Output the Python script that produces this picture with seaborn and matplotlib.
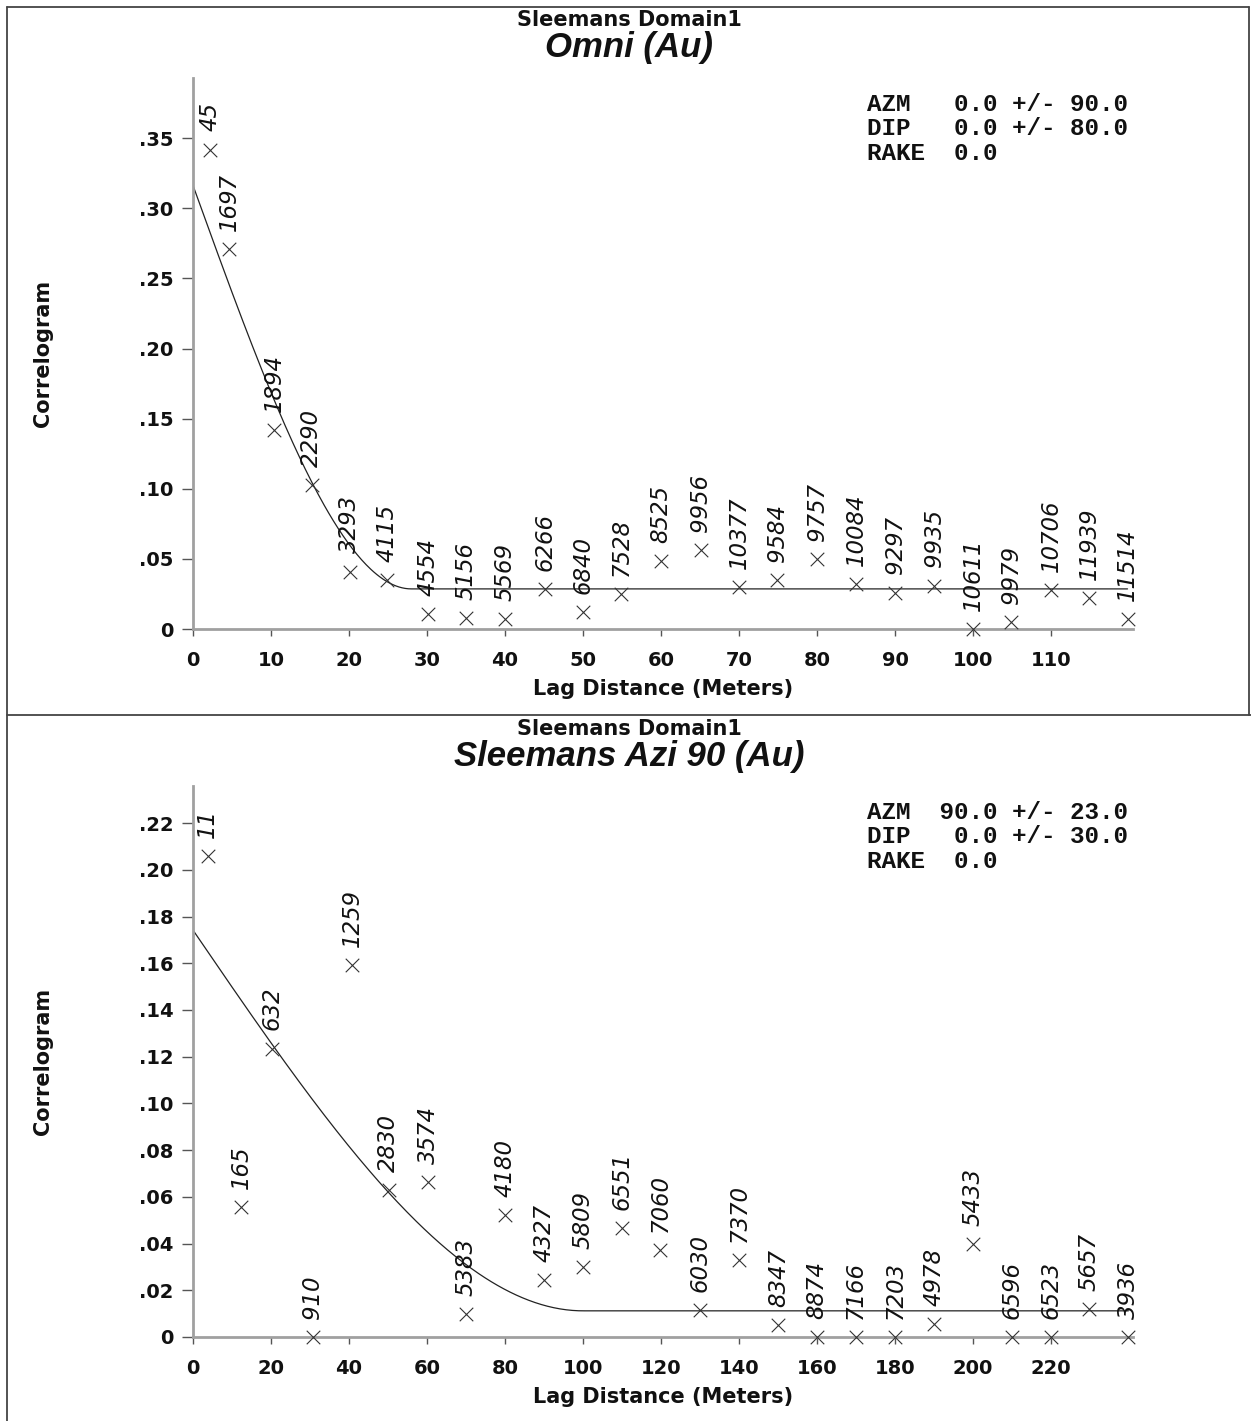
import numpy as np
import pandas as pd
import matplotlib
matplotlib.use("Agg")
import matplotlib.pyplot as plt
from matplotlib.lines import Line2D
from matplotlib.ticker import FuncFormatter, MultipleLocator
import seaborn as sns

# ---- Omni direction: experimental correlogram ----
omni_lag = [2.2, 4.6, 10.4, 15.2, 20.1, 24.9, 30.1, 35.0, 40.0, 45.1, 50.0, 54.9, 60.0,
            65.1, 70.0, 74.9, 80.0, 85.0, 90.0, 95.0, 100.0, 104.9, 110.0, 114.9, 119.8]
omni_corr = [0.342, 0.271, 0.142, 0.103, 0.041, 0.035, 0.011, 0.008, 0.007, 0.0285, 0.012,
             0.025, 0.0487, 0.056, 0.030, 0.035, 0.050, 0.032, 0.026, 0.031, 0.0, 0.005,
             0.028, 0.022, 0.007]
omni_pairs = [45, 1697, 1894, 2290, 3293, 4115, 4554, 5156, 5569, 6266, 6840, 7528, 8525,
              9956, 10377, 9584, 9757, 10084, 9297, 9935, 10611, 9979, 10706, 11939, 11514]

# ---- Azimuth 90 direction: experimental correlogram ----
azi_lag = [3.75, 12.3, 20.2, 30.7, 40.8, 50.2, 60.3, 70.1, 80.0, 89.9, 100.0, 110.1, 119.8,
           130.0, 140.0, 150.1, 160.0, 169.9, 180.0, 190.0, 200.0, 210.0, 220.0, 229.8, 239.8]
azi_corr = [0.206, 0.0556, 0.1235, 0.0, 0.1594, 0.063, 0.0662, 0.0098, 0.0521, 0.0243, 0.030,
            0.0467, 0.0371, 0.0114, 0.0331, 0.005, 0.0, 0.0, 0.0, 0.0057, 0.0397, 0.0, 0.0,
            0.0121, 0.0]
azi_pairs = [11, 165, 632, 910, 1259, 2830, 3574, 5383, 4180, 4327, 5809, 6551, 7060, 6030,
             7370, 8347, 8874, 7166, 7203, 4978, 5433, 6596, 6523, 5657, 3936]

# Fitted spherical models: (floor, structure contribution, range)
omni_model = (0.0286, 0.2878, 28.0)
azi_model = (0.0112, 0.1630, 100.0)

omni_info = "AZM   0.0 +/- 90.0\nDIP   0.0 +/- 80.0\nRAKE  0.0"
azi_info = "AZM  90.0 +/- 23.0\nDIP   0.0 +/- 30.0\nRAKE  0.0"


def spherical_correlogram(h, floor, c, a):
    r = np.clip(h / a, 0, 1)
    return floor + c * (1 - 1.5 * r + 0.5 * r ** 3)


sns.set_style("white")
plt.rcParams["font.family"] = ["DejaVu Sans"]

W, H = 1251, 1421
fig = plt.figure(figsize=(W / 100, H / 100), dpi=100)
fig.patch.set_facecolor("white")

AX_L, AX_W, AX_H = 193 / W, 940 / W, 551 / H
ax_top = fig.add_axes([AX_L, 1 - 629 / H, AX_W, AX_H])
ax_bot = fig.add_axes([AX_L, 1 - 1337 / H, AX_W, AX_H])

# panel frames
frame_kw = dict(color="#444444", lw=1.3, transform=fig.transFigure)
fig.add_artist(Line2D([7 / W, 1249 / W], [1 - 7 / H, 1 - 7 / H], **frame_kw))
fig.add_artist(Line2D([7 / W, 1251 / W], [1 - 715 / H, 1 - 715 / H], **frame_kw))
fig.add_artist(Line2D([7 / W, 7 / W], [1 - 7 / H, 0], **frame_kw))
fig.add_artist(Line2D([1249 / W, 1249 / W], [1 - 7 / H, 1 - 715 / H], **frame_kw))


def corr_fmt(v, _pos):
    if abs(v) < 1e-9:
        return "0"
    return f"{v:.2f}".lstrip("0")


def draw_panel(ax, lag, corr, pairs, model, xmax, ymax, xstep, ystep, info,
               title, title_y):
    df = pd.DataFrame({"lag": lag, "corr": corr, "pairs": pairs})
    h = np.linspace(0, max(lag), 600)
    mdf = pd.DataFrame({"lag": h, "corr": spherical_correlogram(h, *model)})

    sns.lineplot(data=mdf, x="lag", y="corr", ax=ax, color="#222222", lw=0.9)
    sns.scatterplot(data=df, x="lag", y="corr", ax=ax, marker="x", s=95,
                    color="#333333", linewidth=0.8, zorder=3, clip_on=False)
    for _, r in df.iterrows():
        ax.annotate(f"{int(r['pairs'])}", (r["lag"], r["corr"]),
                    xytext=(0, 13), textcoords="offset points",
                    rotation=90, ha="center", va="bottom", fontsize=16.5,
                    style="italic", color="#111111", annotation_clip=False)

    ax.set_xlim(0, xmax)
    ax.set_ylim(0, ymax)
    ax.xaxis.set_major_locator(MultipleLocator(xstep))
    ax.yaxis.set_major_locator(MultipleLocator(ystep))
    ax.set_xticks([t for t in ax.get_xticks() if 0 <= t <= xmax - xstep * 0.5])
    ax.yaxis.set_major_formatter(FuncFormatter(corr_fmt))
    ax.xaxis.set_major_formatter(FuncFormatter(lambda v, p: f"{v:.0f}"))

    for side in ("top", "right"):
        ax.spines[side].set_visible(False)
    for side in ("left", "bottom"):
        ax.spines[side].set_color("#a0a0a0")
        ax.spines[side].set_linewidth(2.0)
    ax.tick_params(axis="y", direction="out", length=8, width=1, color="#555555",
                   pad=6, labelsize=14, left=True)
    ax.tick_params(axis="x", direction="out", length=5, width=1, color="#555555",
                   pad=10.5, labelsize=14, bottom=True)
    for lbl in ax.get_xticklabels() + ax.get_yticklabels():
        lbl.set_fontweight("bold")
        lbl.set_color("#111111")

    ax.set_xlabel("Lag Distance (Meters)", fontsize=15, fontweight="bold",
                  color="#111111")
    ax.xaxis.set_label_coords(0.5, -0.091)
    ax.set_ylabel("Correlogram", fontsize=15, fontweight="bold", color="#111111")
    ax.yaxis.set_label_coords(-0.149, 0.5)

    ax.text(0.717, 0.9726, info, transform=ax.transAxes, ha="left", va="top",
            family="Liberation Mono", fontweight="bold", fontsize=17.5,
            linespacing=1.07, color="#111111")

    fig.text(0.503, 1 - title_y / H, "Sleemans Domain1", ha="center", va="center",
             fontsize=15, fontweight="bold", color="#111111")
    fig.text(0.503, 1 - (title_y + 28) / H, title, ha="center", va="center",
             family="Liberation Sans", fontsize=25, fontweight="bold",
             style="italic", color="#111111")


draw_panel(ax_top, omni_lag, omni_corr, omni_pairs, omni_model,
           120.5, 0.393, 10, 0.05, omni_info, "Omni (Au)", 20)
draw_panel(ax_bot, azi_lag, azi_corr, azi_pairs, azi_model,
           241.0, 0.2359, 20, 0.02, azi_info, "Sleemans Azi 90 (Au)", 729)

fig.savefig("out.png", dpi=100)
